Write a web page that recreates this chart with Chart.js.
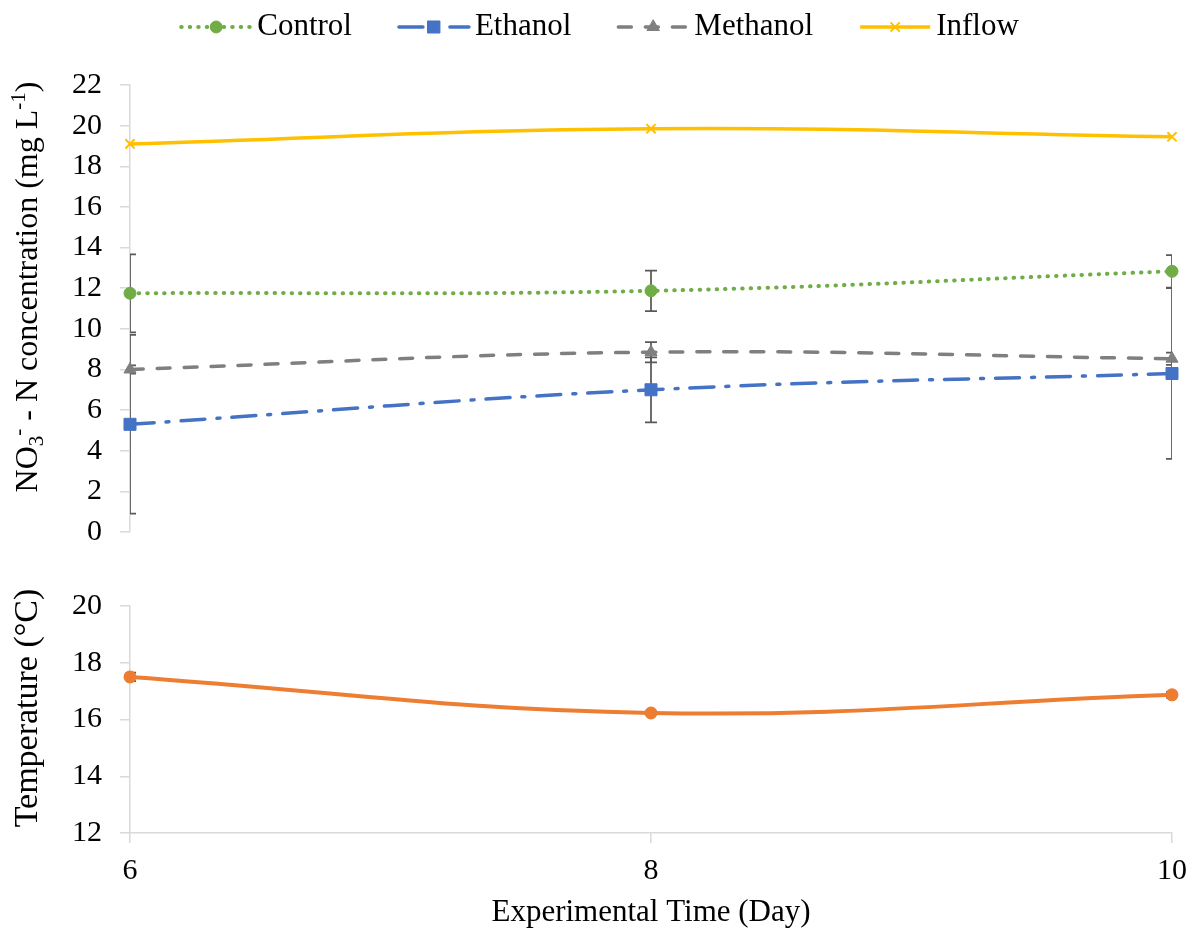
<!DOCTYPE html>
<html>
<head>
<meta charset="utf-8">
<script src="https://cdn.jsdelivr.net/npm/chart.js@4.4.0/dist/chart.umd.min.js"></script>
<style>
  body { margin: 0; background: #fff; }
  #wrap { position: relative; width: 1192px; height: 931px; }
  #nitrate { position: absolute; left: 0; top: 0; }
  #temp { position: absolute; left: 0; top: 560px; }
</style>
</head>
<body>
<div id="wrap">
  <canvas id="nitrate" width="1192" height="568"></canvas>
  <canvas id="temp" width="1192" height="371"></canvas>
</div>
<script>
const days = [6, 8, 10];

const control = [11.75, 11.87, 12.83];
const controlErr = [1.92, 1.0, 0.8];
const ethanol = [5.3, 7.0, 7.8];
const ethanolErr = [4.4, 1.6, 4.2];
const methanol = [8.0, 8.85, 8.53];
const methanolErr = [0.2, 0.5, 0.3];
const inflow = [19.1, 19.85, 19.45];

const temperature = [17.5, 16.23, 16.87];
const temperatureErr = [0.15, 0.05, 0.1];

const serif = '"Liberation Serif", "Times New Roman", serif';
const axisGrey = '#D9D9D9';

const pts = vals => days.map((d, i) => ({ x: d, y: vals[i] }));

// vertical error bars, clipped to the plot area
function errorBars(series) {
  return {
    id: 'errorBars',
    beforeDatasetsDraw(chart) {
      const { ctx, chartArea: a } = chart;
      const xs = chart.scales.x, ys = chart.scales.y;
      ctx.save();
      ctx.beginPath();
      ctx.rect(a.left, a.top, a.right - a.left, a.bottom - a.top);
      ctx.clip();
      ctx.strokeStyle = '#595959';
      ctx.lineWidth = 1.75;
      series.forEach((errs, i) => {
        if (!errs) return;
        chart.data.datasets[i].data.forEach((p, j) => {
          const x = xs.getPixelForValue(p.x);
          const hi = ys.getPixelForValue(p.y + errs[j]);
          const lo = ys.getPixelForValue(p.y - errs[j]);
          ctx.beginPath();
          ctx.moveTo(x, hi); ctx.lineTo(x, lo);
          ctx.moveTo(x - 6, hi); ctx.lineTo(x + 6, hi);
          ctx.moveTo(x - 6, lo); ctx.lineTo(x + 6, lo);
          ctx.stroke();
        });
      });
      ctx.restore();
    }
  };
}

// rotated y title made of plain / sub / sup pieces
function richTitle(x, y, size, parts) {
  return {
    id: 'richTitle',
    afterDraw(chart) {
      const ctx = chart.ctx;
      const small = Math.round(size * 0.66);
      const fontOf = p => (p.shift ? small : size) + 'px ' + serif;
      let total = 0;
      parts.forEach(p => { ctx.font = fontOf(p); total += ctx.measureText(p.text).width; });
      ctx.save();
      ctx.translate(x, y);
      ctx.rotate(-Math.PI / 2);
      ctx.fillStyle = '#000';
      ctx.textBaseline = 'alphabetic';
      ctx.textAlign = 'left';
      let cx = -total / 2;
      parts.forEach(p => {
        ctx.font = fontOf(p);
        const dy = p.shift === 'sup' ? -size * 0.38 : p.shift === 'sub' ? size * 0.2 : 0;
        ctx.fillText(p.text, cx, dy);
        cx += ctx.measureText(p.text).width;
      });
      ctx.restore();
    }
  };
}

// legend row: line sample with its marker, then the label
function lineLegend(cx, y, size) {
  return {
    id: 'lineLegend',
    afterDraw(chart) {
      const ctx = chart.ctx;
      const sample = 70, gap = 6, between = 47;
      ctx.save();
      ctx.font = size + 'px ' + serif;
      const items = chart.data.datasets.map(ds => ({ ds, w: ctx.measureText(ds.label).width }));
      let total = 0;
      items.forEach((it, i) => { total += sample + gap + it.w + (i ? between : 0); });
      let x = cx - total / 2;
      items.forEach(({ ds, w }) => {
        ctx.save();
        ctx.strokeStyle = ds.borderColor;
        ctx.lineWidth = ds.borderWidth;
        ctx.lineCap = ds.borderCapStyle || 'butt';
        ctx.setLineDash(ds.borderDash || []);
        ctx.beginPath();
        ctx.moveTo(x, y); ctx.lineTo(x + sample, y);
        ctx.stroke();
        ctx.setLineDash([]);
        ctx.fillStyle = ds.pointBackgroundColor;
        ctx.strokeStyle = ds.pointBorderColor;
        ctx.lineWidth = ds.pointBorderWidth;
        Chart.helpers.drawPoint(ctx, {
          pointStyle: ds.pointStyle, radius: ds.pointRadius,
          borderWidth: ds.pointBorderWidth, rotation: 0
        }, x + sample / 2, y);
        ctx.restore();
        ctx.font = size + 'px ' + serif;
        ctx.fillStyle = '#000';
        ctx.textBaseline = 'middle';
        ctx.textAlign = 'left';
        ctx.fillText(ds.label, x + sample + gap, y);
        x += sample + gap + w + between;
      });
      ctx.restore();
    }
  };
}

const tickFont = { family: serif, size: 30 };
const axisGrid = { drawOnChartArea: false, color: axisGrey, lineWidth: 1.5, tickLength: 10 };
const axisBorder = { display: true, color: axisGrey, width: 1.5 };

new Chart(document.getElementById('nitrate'), {
  type: 'line',
  data: {
    datasets: [{
      label: 'Control',
      data: pts(control),
      borderColor: '#70AD47', borderWidth: 4,
      borderDash: [0.5, 8], borderCapStyle: 'round',
      pointStyle: 'circle', pointRadius: 6, pointBorderWidth: 1,
      pointBackgroundColor: '#70AD47', pointBorderColor: '#70AD47',
      tension: 0.4, clip: false
    }, {
      label: 'Ethanol',
      data: pts(ethanol),
      borderColor: '#4472C4', borderWidth: 3.5,
      borderDash: [24, 12, 3, 12], borderCapStyle: 'round',
      pointStyle: 'rect', pointRadius: 8.5, pointBorderWidth: 1,
      pointBackgroundColor: '#4472C4', pointBorderColor: '#4472C4',
      tension: 0.4, clip: false
    }, {
      label: 'Methanol',
      data: pts(methanol),
      borderColor: '#7F7F7F', borderWidth: 3.5,
      borderDash: [13, 14], borderCapStyle: 'round',
      pointStyle: 'triangle', pointRadius: 7, pointBorderWidth: 1,
      pointBackgroundColor: '#7F7F7F', pointBorderColor: '#7F7F7F',
      tension: 0.4, clip: false
    }, {
      label: 'Inflow',
      data: pts(inflow),
      borderColor: '#FFC000', borderWidth: 3.5,
      pointStyle: 'crossRot', pointRadius: 6.5, pointBorderWidth: 2,
      pointBackgroundColor: '#FFC000', pointBorderColor: '#FFC000',
      tension: 0.4, clip: false
    }]
  },
  options: {
    responsive: false,
    animation: false,
    layout: { padding: { top: 85, bottom: 29, left: 0, right: 20 } },
    plugins: { legend: { display: false }, tooltip: { enabled: false } },
    scales: {
      x: { type: 'linear', min: 6, max: 10, display: false },
      y: {
        min: 0, max: 22,
        afterFit(scale) { scale.width = 130; },
        ticks: { stepSize: 2, padding: 18, color: '#000', font: tickFont },
        grid: axisGrid,
        border: axisBorder
      }
    }
  },
  plugins: [
    errorBars([controlErr, ethanolErr, methanolErr, null]),
    richTitle(37, 287, 32, [
      { text: 'NO' }, { text: '3', shift: 'sub' }, { text: '-', shift: 'sup' },
      { text: ' - N concentration (mg L' }, { text: '-1', shift: 'sup' }, { text: ')' }
    ]),
    lineLegend(600, 27, 31)
  ]
});

new Chart(document.getElementById('temp'), {
  type: 'line',
  data: {
    datasets: [{
      label: 'Temperature',
      data: pts(temperature),
      borderColor: '#ED7D31', borderWidth: 4,
      pointStyle: 'circle', pointRadius: 4.5,
      pointBackgroundColor: '#ED7D31', pointBorderColor: '#ED7D31',
      tension: 0.4, clip: false
    }]
  },
  options: {
    responsive: false,
    animation: false,
    layout: { padding: { top: 46, bottom: 0, left: 0, right: 20 } },
    plugins: { legend: { display: false }, tooltip: { enabled: false } },
    scales: {
      x: {
        type: 'linear', min: 6, max: 10,
        afterFit(scale) {
          scale.height = 98;
          scale.paddingLeft = 0;
          scale.paddingRight = 0;
        },
        ticks: { stepSize: 2, padding: 10, color: '#000', font: tickFont },
        grid: axisGrid,
        border: axisBorder,
        title: {
          display: true, text: 'Experimental Time (Day)', color: '#000',
          font: { family: serif, size: 31 }, padding: { top: 0, bottom: 0 }
        }
      },
      y: {
        min: 12, max: 20,
        afterFit(scale) { scale.width = 130; },
        ticks: { stepSize: 2, padding: 18, color: '#000', font: tickFont },
        grid: axisGrid,
        border: axisBorder
      }
    }
  },
  plugins: [
    errorBars([temperatureErr]),
    richTitle(37, 148, 34, [{ text: 'Temperature (°C)' }])
  ]
});
</script>
</body>
</html>
